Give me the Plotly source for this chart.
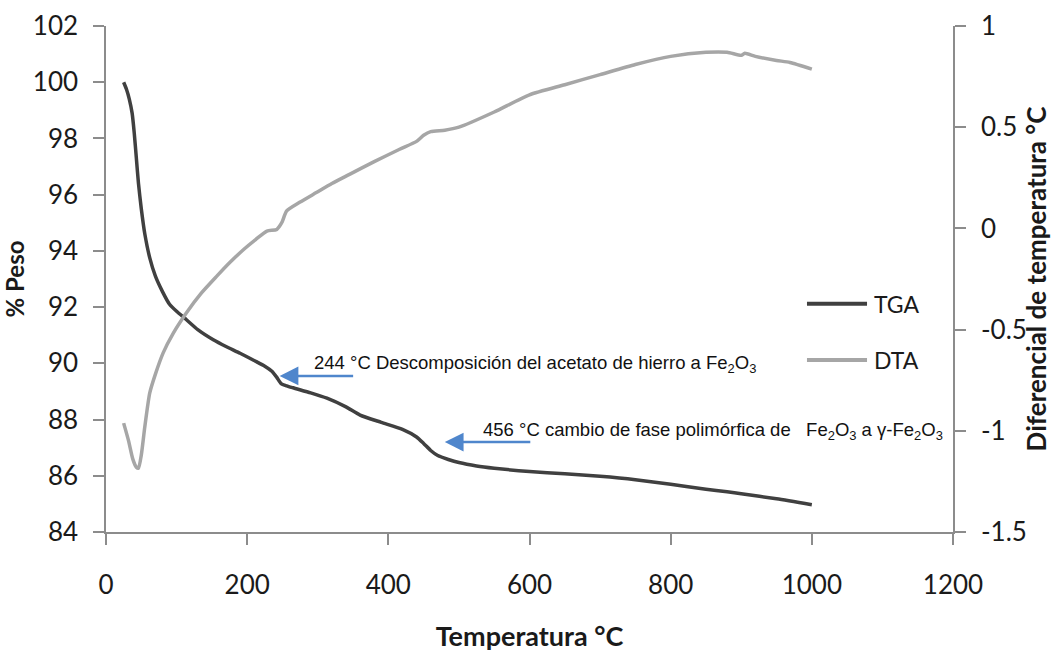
import plotly.graph_objects as go

# TGA: mass loss (%) vs temperature (°C)
tga_temp = [25, 29, 33, 37, 40, 43, 46, 50, 55, 62, 70, 80, 90, 100, 114, 130, 152, 170, 190,
            210, 225, 235, 242, 248, 256, 265, 290, 313, 340, 360, 390, 420, 440, 450,
            460, 470, 485, 500, 525, 550, 600, 650, 700, 750, 800, 850, 880, 900, 950, 1000]
tga_peso = [100.0, 99.75, 99.4, 98.9, 98.2, 97.3, 96.4, 95.5, 94.6, 93.75, 93.1, 92.55,
            92.1, 91.85, 91.55, 91.2, 90.84, 90.6, 90.36, 90.1, 89.9, 89.72, 89.5, 89.28,
            89.2, 89.13, 88.95, 88.76, 88.45, 88.16, 87.9, 87.65, 87.38, 87.15, 86.9,
            86.72, 86.58, 86.47, 86.35, 86.27, 86.15, 86.07, 85.98, 85.86, 85.7, 85.52,
            85.43, 85.36, 85.18, 84.97]

# DTA: temperature differential (°C) vs temperature (°C)
dta_temp = [25, 32, 38, 43, 46, 50, 55, 62, 70, 81, 95, 114, 135, 157, 175, 195, 212,
            228, 242, 249, 256, 275, 298, 320, 345, 380, 416, 440, 450, 460, 480, 500,
            550, 600, 650, 700, 750, 800, 850, 880, 900, 905, 920, 950, 969, 1000]
dta_dif = [-0.962, -1.05, -1.14, -1.18, -1.185, -1.12, -0.98, -0.813, -0.72, -0.615,
           -0.52, -0.417, -0.32, -0.236, -0.17, -0.104, -0.055, -0.013, -0.005, 0.028,
           0.086, 0.13, 0.177, 0.222, 0.267, 0.33, 0.391, 0.43, 0.46, 0.478, 0.485, 0.5,
           0.575, 0.66, 0.71, 0.76, 0.81, 0.85, 0.87, 0.87, 0.855, 0.865, 0.85, 0.83,
           0.82, 0.787]

x_ticks = [0, 200, 400, 600, 800, 1000, 1200]
y_left_ticks = [84, 86, 88, 90, 92, 94, 96, 98, 100, 102]
y_right_ticks = [-1.5, -1, -0.5, 0, 0.5, 1]
y_right_labels = ["-1.5", "-1", "-0.5", "0", "0.5", "1"]

TGA_COLOR = "#404040"
DTA_COLOR = "#A6A6A6"
AXIS_COLOR = "#8C8C8C"
ARROW_COLOR = "#4F86CC"
TEXT_COLOR = "#1a1a1a"
TICK_FONT = dict(family="Lato", size=26, color=TEXT_COLOR)

fig = go.Figure()
fig.add_trace(go.Scatter(x=tga_temp, y=tga_peso, mode="lines", name="TGA",
                         line=dict(color=TGA_COLOR, width=3.5, shape="spline", smoothing=0.6),
                         yaxis="y"))
fig.add_trace(go.Scatter(x=dta_temp, y=dta_dif, mode="lines", name="DTA",
                         line=dict(color=DTA_COLOR, width=3.5, shape="spline", smoothing=0.6),
                         yaxis="y2"))

axis_common = dict(showgrid=False, zeroline=False, showline=True, linecolor=AXIS_COLOR,
                   linewidth=1.5, ticks="outside", ticklen=11, tickcolor=AXIS_COLOR,
                   tickwidth=1.5, automargin=False)

fig.update_layout(
    width=1052, height=657,
    margin=dict(l=106, r=99, t=26, b=125),
    paper_bgcolor="white", plot_bgcolor="white",
    showlegend=False,
    xaxis=dict(range=[0, 1200], tickvals=x_ticks, tickfont=TICK_FONT,
               ticklabelstandoff=18,
               title=dict(text="<b>Temperatura °C</b>",
                          font=dict(family="Lato", size=27, color=TEXT_COLOR), standoff=28),
               **axis_common),
    yaxis=dict(range=[84, 102], tickvals=y_left_ticks, tickfont=TICK_FONT,
               ticklabelstandoff=10,
               title=dict(text="<b>% Peso</b>", font=dict(family="Lato", size=24, color=TEXT_COLOR),
                          standoff=2),
               **axis_common),
    yaxis2=dict(range=[-1.5, 1], tickvals=y_right_ticks, ticktext=y_right_labels,
                tickfont=TICK_FONT, overlaying="y", side="right", ticklabelstandoff=10,
                title=dict(text="<b>Diferencial de temperatura °C</b>",
                           font=dict(family="Lato", size=26, color=TEXT_COLOR), standoff=2),
                **axis_common),
)

# Event annotations with arrows pointing at the TGA curve
note_font = dict(family="Liberation Sans", size=18.5, color="#111111")
fig.add_annotation(x=246, y=89.55, xref="x", yref="y", text="", showarrow=True,
                   ax=75, ay=0, arrowhead=2, arrowsize=1.5, arrowwidth=2.5,
                   arrowcolor=ARROW_COLOR)
fig.add_annotation(x=292, y=89.98, xref="x", yref="y", xanchor="left", yanchor="middle",
                   text="244 °C Descomposición del acetato de hierro a Fe<sub>2</sub>O<sub>3</sub>",
                   showarrow=False, font=note_font)
fig.add_annotation(x=480, y=87.2, xref="x", yref="y", text="", showarrow=True,
                   ax=87, ay=0, arrowhead=2, arrowsize=1.5, arrowwidth=2.5,
                   arrowcolor=ARROW_COLOR)
fig.add_annotation(x=531, y=87.6, xref="x", yref="y", xanchor="left", yanchor="middle",
                   text="456 °C cambio de fase polimórfica de\u00a0\u00a0\u00a0Fe<sub>2</sub>O<sub>3</sub> a γ-Fe<sub>2</sub>O<sub>3</sub>",
                   showarrow=False, font=note_font)

# Series key drawn inside the plot area
legend_font = dict(family="Lato", size=23, color=TEXT_COLOR)
for name, color, yk in [("TGA", TGA_COLOR, 0.451), ("DTA", DTA_COLOR, 0.340)]:
    fig.add_shape(type="line", xref="paper", yref="paper", x0=0.8276, x1=0.8985,
                  y0=yk, y1=yk, line=dict(color=color, width=4))
    fig.add_annotation(x=0.9044, y=yk, xref="paper", yref="paper", xanchor="left",
                       yanchor="middle", text=name, showarrow=False, font=legend_font)

fig.write_html("out.html")
